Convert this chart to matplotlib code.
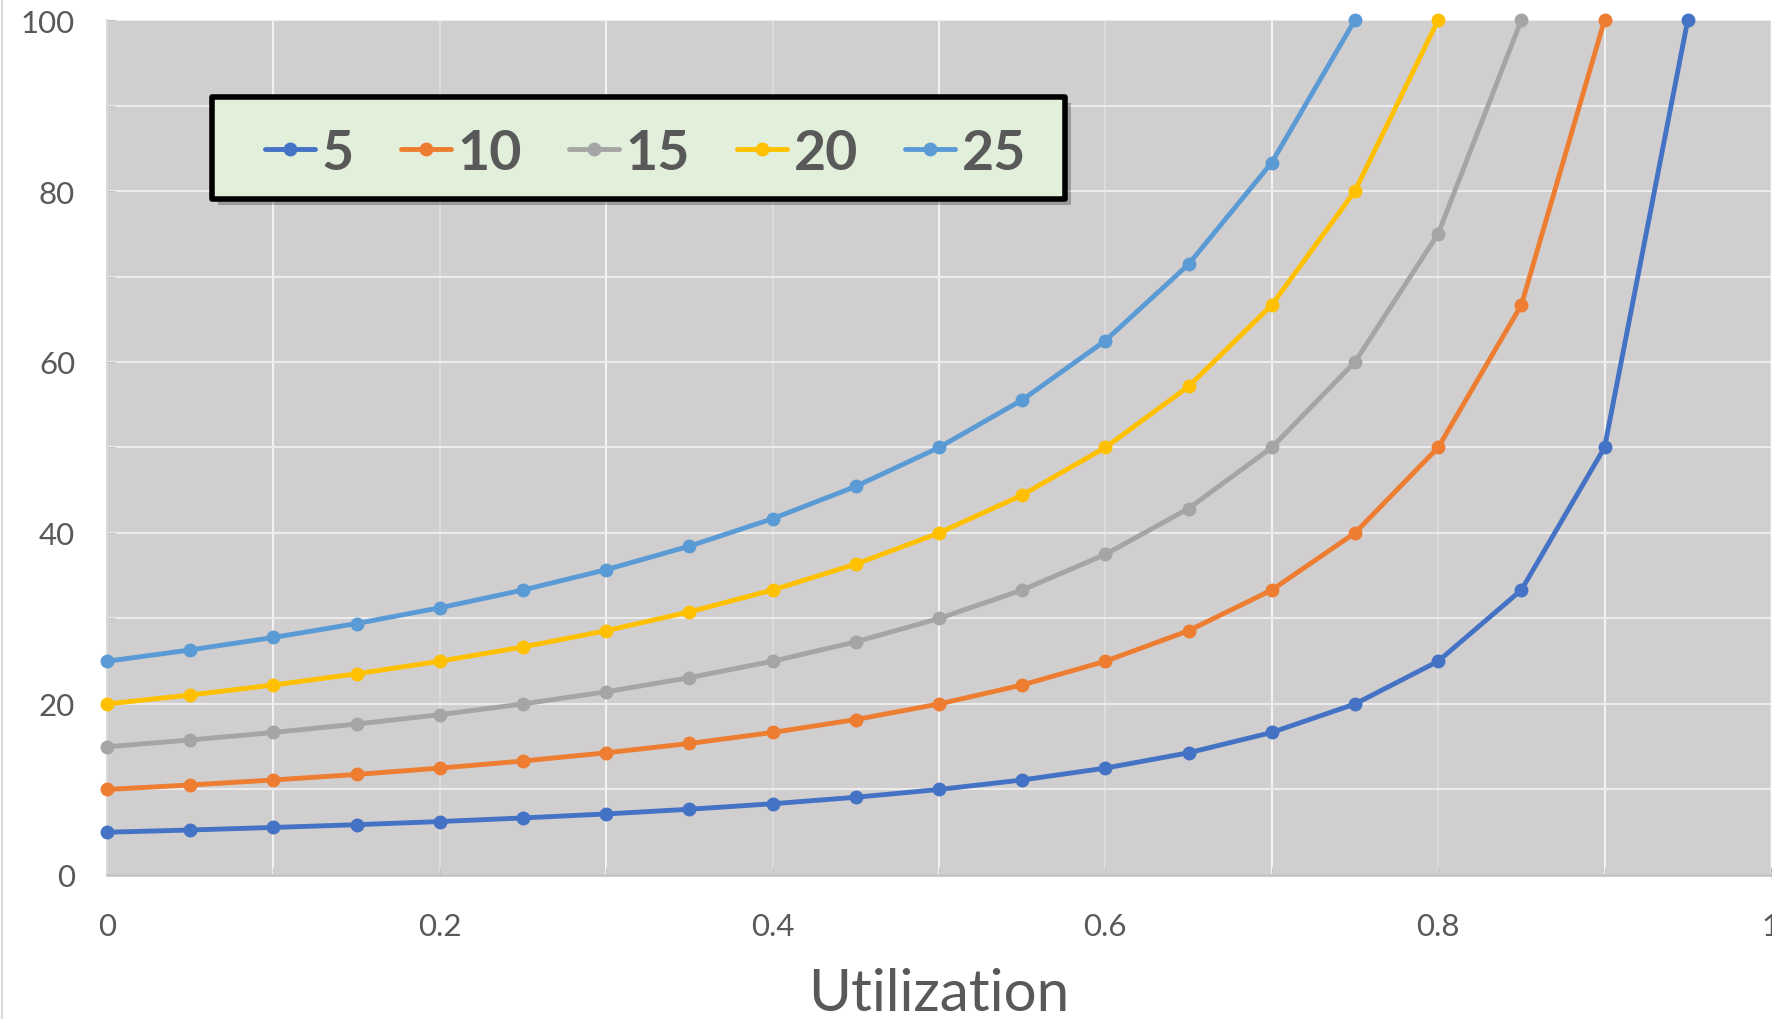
#!/usr/bin/env python3
"""
Response time versus utilization for several service times.
"""
import matplotlib
matplotlib.use("Agg")
import matplotlib.pyplot as plt
from matplotlib.patches import Rectangle
from matplotlib.ticker import MultipleLocator

# utilization steps (x) and the values for each series
util = [0.0, 0.05, 0.10, 0.15, 0.20, 0.25, 0.30, 0.35, 0.40, 0.45,
        0.50, 0.55, 0.60, 0.65, 0.70, 0.75, 0.80, 0.85, 0.90, 0.95]

s5 = [5, 5.26, 5.56, 5.88, 6.25, 6.67, 7.14, 7.69, 8.33, 9.09,
      10, 11.11, 12.5, 14.29, 16.67, 20, 25, 33.33, 50, 100]
s10 = [10, 10.53, 11.11, 11.76, 12.5, 13.33, 14.29, 15.38, 16.67, 18.18,
       20, 22.22, 25, 28.57, 33.33, 40, 50, 66.67, 100]
s15 = [15, 15.79, 16.67, 17.65, 18.75, 20, 21.43, 23.08, 25, 27.27,
       30, 33.33, 37.5, 42.86, 50, 60, 75, 100]
s20 = [20, 21.05, 22.22, 23.53, 25, 26.67, 28.57, 30.77, 33.33, 36.36,
       40, 44.44, 50, 57.14, 66.67, 80, 100]
s25 = [25, 26.32, 27.78, 29.41, 31.25, 33.33, 35.71, 38.46, 41.67, 45.45,
       50, 55.56, 62.5, 71.43, 83.33, 100]

labels = ["5", "10", "15", "20", "25"]
series = [s5, s10, s15, s20, s25]
colors = ["#4472C4", "#ED7D31", "#A5A5A5", "#FFC000", "#5B9BD5"]

x_ticks = [0, 0.2, 0.4, 0.6, 0.8, 1]
x_tick_labels = ["0", "0.2", "0.4", "0.6", "0.8", "1"]
y_ticks = [0, 20, 40, 60, 80, 100]

plt.rcParams["font.family"] = ["Lato", "DejaVu Sans"]
text_color = "#595959"

fig = plt.figure(figsize=(17.72, 10.20), dpi=100)
ax = fig.add_axes([0.0604, 0.1412, 0.9390, 0.8382])
ax.set_facecolor("#D0CECF")

for ys, lab, col in zip(series, labels, colors):
    ax.plot(util[:len(ys)], ys, color=col, lw=3.5, marker="o", ms=9,
            label=lab, clip_on=False, solid_capstyle="round", zorder=3)

ax.set_xlim(0, 1)
ax.set_ylim(0, 100)
ax.set_xticks(x_ticks)
ax.set_xticklabels(x_tick_labels)
ax.set_yticks(y_ticks)
ax.xaxis.set_minor_locator(MultipleLocator(0.1))
ax.yaxis.set_minor_locator(MultipleLocator(10))

ax.grid(True, which="major", axis="x", color="#DCDCDC", lw=1.5, zorder=1)
ax.grid(True, which="minor", axis="x", color="#F2F2F2", lw=1.5, zorder=1)
ax.grid(True, which="both", axis="y", color="#ECECEC", lw=1.5, zorder=1)
ax.set_axisbelow(True)

for side in ["top", "right"]:
    ax.spines[side].set_visible(False)
ax.spines["bottom"].set_color("#BFBFBF")
ax.spines["bottom"].set_linewidth(1.8)
ax.spines["left"].set_color("#D9D9D9")
ax.spines["left"].set_linewidth(1.5)

ax.tick_params(axis="both", which="both", direction="in", length=6,
               color="#BFBFBF", labelsize=22.5, labelcolor=text_color)
ax.tick_params(axis="x", which="major", pad=27)
ax.tick_params(axis="y", which="major", pad=23)

ax.set_xlabel("Utilization", fontsize=42, color=text_color, labelpad=19)

# legend box drawn by hand (shadow + green fill + thick black border)
box_x, box_y, box_w, box_h = 0.1196, 0.8039, 0.4814, 0.1000
fig.add_artist(Rectangle((box_x + 0.0035, box_y - 0.006), box_w, box_h,
                         transform=fig.transFigure, facecolor="#000000",
                         alpha=0.25, lw=0, zorder=5))
fig.add_artist(Rectangle((box_x, box_y), box_w, box_h,
                         transform=fig.transFigure, facecolor="#E2EFDA",
                         edgecolor="black", lw=4, joinstyle="round",
                         zorder=6))

handles, names = ax.get_legend_handles_labels()
leg = fig.legend(handles, names, loc="center",
                 bbox_to_anchor=(box_x + box_w / 2 + 0.004,
                                 box_y + box_h / 2 - 0.0045),
                 ncol=5, frameon=False, handlelength=0.9, handletextpad=0.12,
                 columnspacing=0.85, borderpad=0, borderaxespad=0,
                 prop={"size": 40, "weight": "bold"})
leg.set_zorder(7)
for t in leg.get_texts():
    t.set_color(text_color)

# thin border on the left edge of the chart area
fig.add_artist(plt.Line2D([0.001, 0.001], [0, 1], color="#D9D9D9", lw=1.5,
                          transform=fig.transFigure))

fig.savefig("out.png", dpi=100)
